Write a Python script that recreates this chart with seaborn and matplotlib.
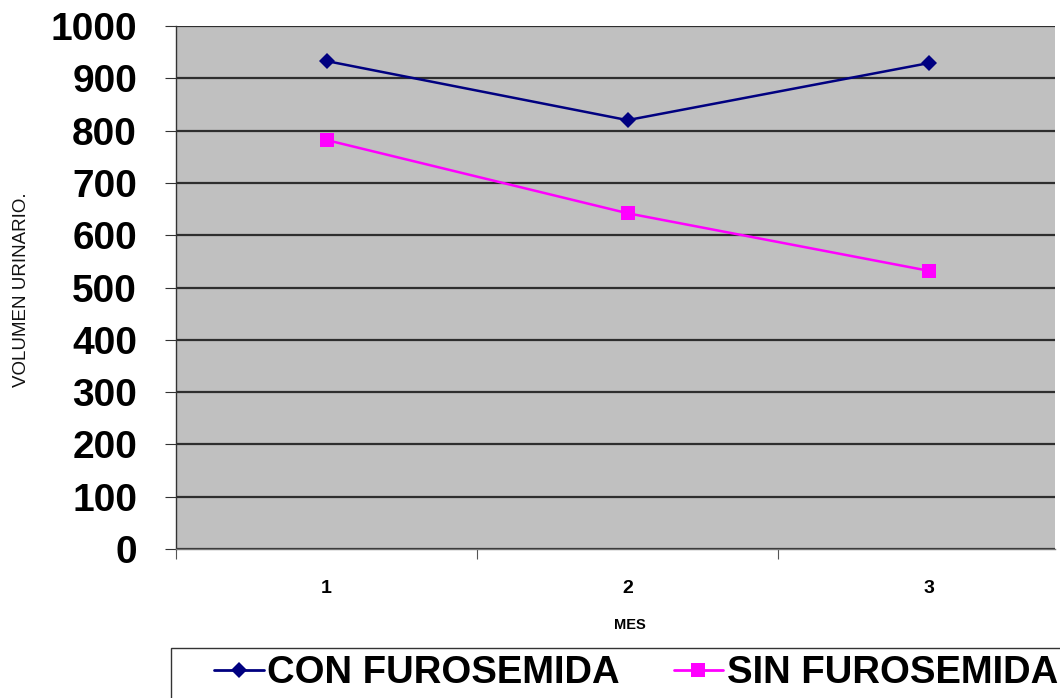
import matplotlib
matplotlib.use("Agg")
import matplotlib.pyplot as plt
import seaborn as sns
import pandas as pd
from matplotlib.lines import Line2D
from matplotlib.patches import Rectangle

# Monthly urine volume, with and without furosemide
meses = [1, 2, 3]
con_furosemida = [933, 820, 929]
sin_furosemida = [782, 642, 532]
series = ["CON FUROSEMIDA", "SIN FUROSEMIDA"]
y_ticks = [0, 100, 200, 300, 400, 500, 600, 700, 800, 900, 1000]

df = pd.DataFrame({
    "MES": meses * 2,
    "VOLUMEN": con_furosemida + sin_furosemida,
    "SERIE": [series[0]] * len(meses) + [series[1]] * len(meses),
})

sns.set_theme(style="white")
plt.rcParams["font.family"] = ["Liberation Sans", "DejaVu Sans"]
plt.rcParams["text.color"] = "black"
plt.rcParams["xtick.color"] = "black"
plt.rcParams["ytick.color"] = "black"
plt.rcParams["axes.labelcolor"] = "black"

colors = {series[0]: "#000080", series[1]: "#ff00ff"}
markers = {series[0]: "D", series[1]: "s"}
msize = {series[0]: 8, series[1]: 10}

fig = plt.figure(figsize=(10.6, 6.98), dpi=100)
ax = fig.add_axes([176 / 1060, 1 - 549 / 698, (1055 - 176) / 1060, (549 - 26) / 698])
ax.set_facecolor("#c0c0c0")

sns.lineplot(data=df, x="MES", y="VOLUMEN", hue="SERIE", style="SERIE",
             palette=colors, markers=markers, dashes=False, linewidth=1.8,
             markeredgewidth=0, legend=False, ax=ax, zorder=3)
for line, s in zip(ax.lines, series):
    line.set_markersize(msize[s])

ax.set_ylim(0, 1000)
ax.set_xlim(0.5, 0.5 + (1055 - 176) / 301)
ax.set_yticks(y_ticks)
ax.set_yticklabels([str(v) for v in y_ticks], fontsize=28, fontweight="bold")
ax.tick_params(axis="y", direction="out", length=8, width=0.8, color="#333333",
               pad=20, left=True)

ax.set_xticks(meses)
ax.set_xticklabels([str(m) for m in meses], fontsize=14, fontweight="bold")
ax.set_xticks([0.5, 1.5, 2.5], minor=True)
ax.tick_params(axis="x", which="major", length=0, pad=22)
ax.tick_params(axis="x", which="minor", direction="out", length=7, width=0.8,
               color="#555555", bottom=True)

ax.yaxis.grid(True, color="#2e2e2e", linewidth=1.6)
ax.xaxis.grid(False)
ax.set_axisbelow(True)

for side in ["top", "right"]:
    ax.spines[side].set_visible(False)
ax.spines["left"].set_color("#333333")
ax.spines["left"].set_linewidth(1.0)
ax.spines["bottom"].set_color("#777777")
ax.spines["bottom"].set_linewidth(1.0)

ax.set_xlabel("MES", fontsize=10.5, fontweight="bold")
ax.xaxis.set_label_coords((630 - 176) / 879, -(625 - 549) / 523)
ax.xaxis.label.set_va("center")
ax.set_ylabel("")
fig.text(22 / 1060, 1 - 290 / 698, "VOLUMEN URINARIO.", rotation=90,
         ha="center", va="center", fontsize=13.5, color="#111111")

# legend box, running past the lower and right edges
fig.patches.append(Rectangle((171 / 1060, -0.05), 1.0, 0.05 + (698 - 648) / 698,
                             transform=fig.transFigure, facecolor="white",
                             edgecolor="#333333", linewidth=1.0))

handles = [
    Line2D([0], [0], color=colors[s], marker=markers[s], linewidth=2.0,
           markersize=msize[s], markeredgewidth=0)
    for s in series
]
leg = fig.legend(handles, series, loc="upper left",
                 bbox_to_anchor=(214 / 1060, 1 - 655 / 698), ncol=2,
                 frameon=False, prop={"weight": "bold", "size": 27.5},
                 handlelength=1.3, handletextpad=0.1, columnspacing=1.4,
                 borderpad=0, borderaxespad=0)

fig.savefig("out.png", dpi=100)
